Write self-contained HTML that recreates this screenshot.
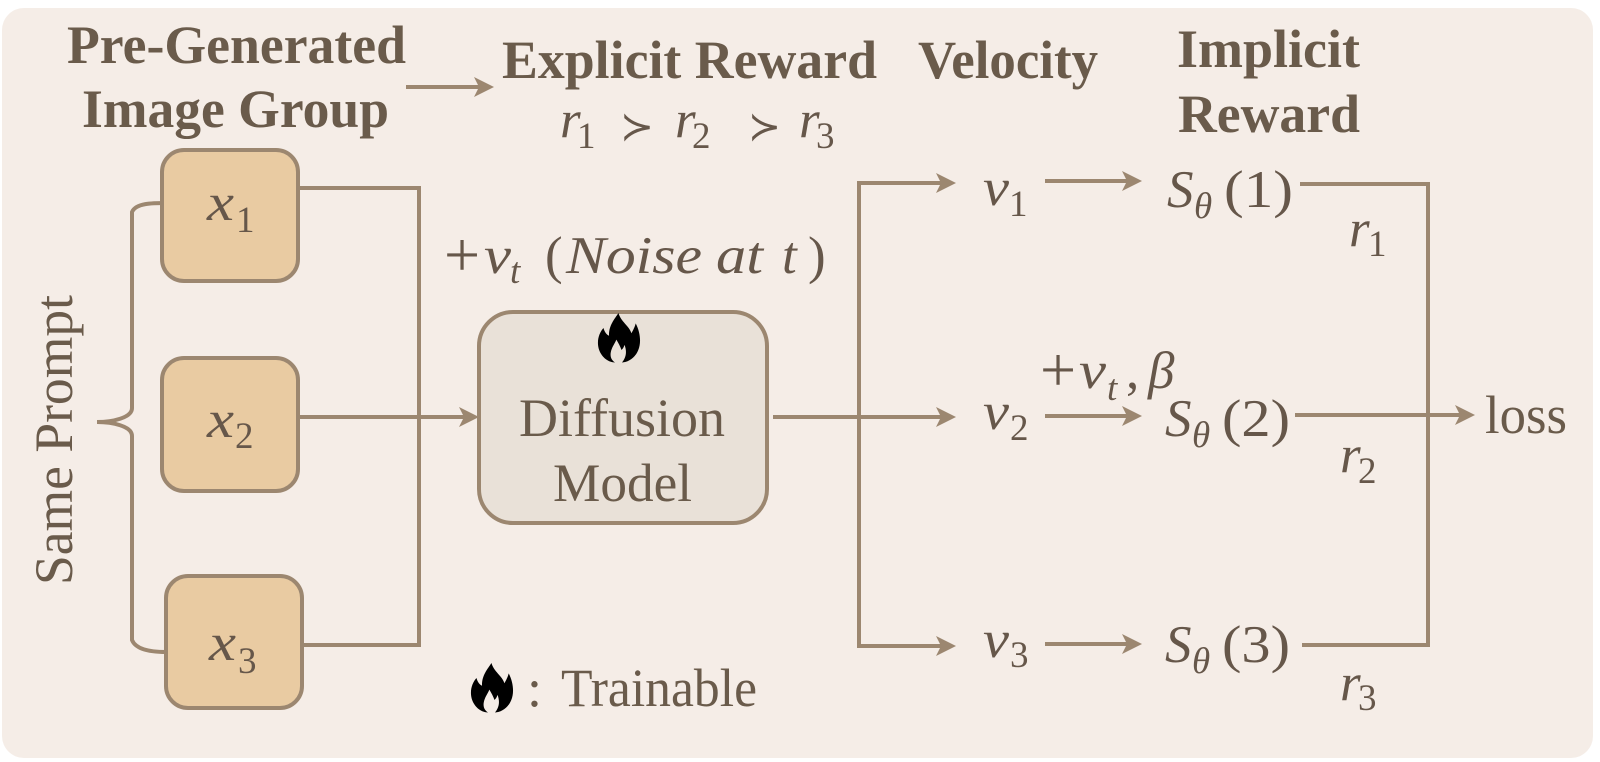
<!DOCTYPE html>
<html>
<head>
<meta charset="utf-8">
<style>
  html,body{margin:0;padding:0;background:#ffffff;}
  svg{display:block;}
  .hb{font-family:"Liberation Serif","DejaVu Serif",serif;font-weight:bold;font-size:54px;fill:#6a5b4b;}
  .rg{font-family:"Liberation Serif","DejaVu Serif",serif;font-size:54px;fill:#6a5b4b;}
  .mi{font-family:"Liberation Serif","DejaVu Serif",serif;font-style:italic;font-size:53px;fill:#66574a;}
  .mu{font-family:"Liberation Serif","DejaVu Serif",serif;font-size:53px;fill:#66574a;}
  .pl{font-family:"Liberation Serif","DejaVu Serif",serif;font-size:64px;fill:#66574a;}
  .sb{font-family:"Liberation Serif","DejaVu Serif",serif;font-size:37px;fill:#66574a;}
  .si{font-family:"Liberation Serif","DejaVu Serif",serif;font-style:italic;font-size:37px;fill:#66574a;}
  .op{font-family:"DejaVu Sans","DejaVu Serif",sans-serif;font-size:40px;fill:#66574a;}
  .ln{fill:none;stroke:#9c8770;stroke-width:4;}
  .ah{fill:#9c8770;}
</style>
</head>
<body>
<svg width="1600" height="762" viewBox="0 0 1600 762" xmlns="http://www.w3.org/2000/svg">
  <defs>
    <path id="flame" d="M50,0 C55,20 75,30 80,47 C85,38 88,32 90,24 C101,45 103,70 96,86 C89,104 72,115 58,115 C66,106 71,92 64,74 C62,80 60,83 57,86 C54,78 50,70 45,62 C41,72 34,80 32,92 C30,103 35,111 42,115 C28,115 12,105 5,86 C-2,66 5,46 15,35 C18,45 22,50 28,53 C27,30 40,15 50,0 Z"/>
  </defs>

  <!-- background panel -->
  <rect x="0" y="0" width="1600" height="762" fill="#ffffff"/>
  <rect x="2" y="8" width="1591" height="750" rx="22" ry="22" fill="#f5ede7"/>

  <!-- headers -->
  <text class="hb" x="67" y="63" textLength="339" lengthAdjust="spacingAndGlyphs">Pre-Generated</text>
  <text class="hb" x="82" y="127" textLength="307" lengthAdjust="spacingAndGlyphs">Image Group</text>
  <text class="hb" x="502" y="78" textLength="375" lengthAdjust="spacingAndGlyphs">Explicit Reward</text>
  <text class="hb" x="918" y="78" textLength="180" lengthAdjust="spacingAndGlyphs">Velocity</text>
  <text class="hb" x="1177" y="67" textLength="183" lengthAdjust="spacingAndGlyphs">Implicit</text>
  <text class="hb" x="1178" y="132" textLength="182" lengthAdjust="spacingAndGlyphs">Reward</text>

  <!-- header arrow -->
  <line class="ln" x1="406" y1="87" x2="480" y2="87"/>
  <path class="ah" d="M494,87 L474,77 L479,87 L474,97 Z"/>

  <!-- r1 > r2 > r3 -->
  <text class="mi" x="560" y="137">r</text>
  <text class="sb" x="577" y="148">1</text>
  <text class="op" x="620" y="140" textLength="34" lengthAdjust="spacingAndGlyphs">≻</text>
  <text class="mi" x="675" y="137">r</text>
  <text class="sb" x="692" y="148">2</text>
  <text class="op" x="748" y="140" textLength="33" lengthAdjust="spacingAndGlyphs">≻</text>
  <text class="mi" x="799" y="137">r</text>
  <text class="sb" x="816" y="148">3</text>

  <!-- Same Prompt -->
  <text class="rg" transform="translate(72,440) rotate(-90)" text-anchor="middle" textLength="290" lengthAdjust="spacingAndGlyphs">Same Prompt</text>

  <!-- bracket -->
  <path class="ln" d="M167,203 C152,203 136,203 132,212 L132,408 C132,418 112,422 97,422 C112,422 132,426 132,436 L132,640 C136,650 152,652 166,652"/>

  <!-- x boxes -->
  <rect x="162" y="150" width="136" height="131" rx="22" fill="#e9cba2" stroke="#9c8770" stroke-width="4"/>
  <rect x="162" y="358" width="136" height="133" rx="22" fill="#e9cba2" stroke="#9c8770" stroke-width="4"/>
  <rect x="166" y="576" width="136" height="132" rx="22" fill="#e9cba2" stroke="#9c8770" stroke-width="4"/>
  <text class="mi" x="207" y="220" textLength="27" lengthAdjust="spacingAndGlyphs">x</text><text class="sb" x="236" y="232">1</text>
  <text class="mi" x="207" y="437" textLength="27" lengthAdjust="spacingAndGlyphs">x</text><text class="sb" x="235" y="448">2</text>
  <text class="mi" x="209" y="660" textLength="27" lengthAdjust="spacingAndGlyphs">x</text><text class="sb" x="238" y="673">3</text>

  <!-- left connectors -->
  <path class="ln" d="M298,188 H419 V645 H302"/>
  <line class="ln" x1="298" y1="417" x2="465" y2="417"/>
  <path class="ah" d="M479,417 L459,407 L464,417 L459,427 Z"/>

  <!-- noise label -->
  <text class="pl" x="444" y="276">+</text>
  <text class="mi" x="484" y="273" textLength="27" lengthAdjust="spacingAndGlyphs">v</text>
  <text class="si" x="510" y="283">t</text>
  <text class="mu" x="545" y="273">(</text>
  <text class="mi" x="566" y="273" textLength="136" lengthAdjust="spacingAndGlyphs">Noise</text>
  <text class="mi" x="716" y="273" textLength="47" lengthAdjust="spacingAndGlyphs">at</text>
  <text class="mi" x="782" y="273">t</text>
  <text class="mu" x="808" y="273">)</text>

  <!-- diffusion model -->
  <rect x="479" y="312" width="288" height="211" rx="34" fill="#e9e1d8" stroke="#9c8770" stroke-width="4"/>
  <use href="#flame" transform="translate(597,313) scale(0.43)" fill="#000"/>
  <text class="rg" x="519" y="436" textLength="206" lengthAdjust="spacingAndGlyphs">Diffusion</text>
  <text class="rg" x="553" y="501" textLength="139" lengthAdjust="spacingAndGlyphs">Model</text>

  <!-- trainable legend -->
  <use href="#flame" transform="translate(470,663) scale(0.43)" fill="#000"/>
  <text class="rg" x="527" y="706">:</text>
  <text class="rg" x="561" y="706" textLength="196" lengthAdjust="spacingAndGlyphs">Trainable</text>

  <!-- fan-out to velocities -->
  <line class="ln" x1="773" y1="417" x2="942" y2="417"/>
  <path class="ln" d="M942,183 H859 V646 H942"/>
  <path class="ah" d="M956,183 L936,173 L941,183 L936,193 Z"/>
  <path class="ah" d="M956,417 L936,407 L941,417 L936,427 Z"/>
  <path class="ah" d="M956,646 L936,636 L941,646 L936,656 Z"/>

  <!-- velocities -->
  <text class="mi" x="983" y="205" textLength="26" lengthAdjust="spacingAndGlyphs">v</text><text class="sb" x="1009" y="216">1</text>
  <text class="mi" x="983" y="429" textLength="26" lengthAdjust="spacingAndGlyphs">v</text><text class="sb" x="1010" y="440">2</text>
  <text class="mi" x="983" y="657" textLength="26" lengthAdjust="spacingAndGlyphs">v</text><text class="sb" x="1010" y="667">3</text>

  <!-- v -> S arrows -->
  <line class="ln" x1="1045" y1="181" x2="1128" y2="181"/>
  <path class="ah" d="M1142,181 L1122,171 L1127,181 L1122,191 Z"/>
  <line class="ln" x1="1045" y1="416" x2="1128" y2="416"/>
  <path class="ah" d="M1142,416 L1122,406 L1127,416 L1122,426 Z"/>
  <line class="ln" x1="1045" y1="644" x2="1128" y2="644"/>
  <path class="ah" d="M1142,644 L1122,634 L1127,644 L1122,654 Z"/>

  <!-- +v_t, beta -->
  <text class="pl" x="1040" y="391">+</text>
  <text class="mi" x="1079" y="388" textLength="27" lengthAdjust="spacingAndGlyphs">v</text>
  <text class="si" x="1107" y="400">t</text>
  <text class="mu" x="1126" y="388">,</text>
  <text class="mi" x="1148" y="388">β</text>

  <!-- S theta -->
  <text class="mi" x="1167" y="207">S</text><text class="si" x="1194" y="218">θ</text>
  <text class="mu" x="1224" y="207" textLength="69" lengthAdjust="spacingAndGlyphs">(1)</text>
  <text class="mi" x="1165" y="436">S</text><text class="si" x="1192" y="447">θ</text>
  <text class="mu" x="1222" y="436" textLength="68" lengthAdjust="spacingAndGlyphs">(2)</text>
  <text class="mi" x="1165" y="662">S</text><text class="si" x="1192" y="673">θ</text>
  <text class="mu" x="1222" y="662" textLength="68" lengthAdjust="spacingAndGlyphs">(3)</text>

  <!-- to loss -->
  <path class="ln" d="M1300,184 H1428 V645 H1302"/>
  <line class="ln" x1="1295" y1="415" x2="1461" y2="415"/>
  <path class="ah" d="M1475,415 L1455,405 L1460,415 L1455,425 Z"/>
  <text class="rg" x="1485" y="433" textLength="82" lengthAdjust="spacingAndGlyphs">loss</text>

  <!-- r labels -->
  <text class="mi" x="1349" y="246">r</text><text class="sb" x="1368" y="256">1</text>
  <text class="mi" x="1340" y="472">r</text><text class="sb" x="1358" y="483">2</text>
  <text class="mi" x="1340" y="700">r</text><text class="sb" x="1358" y="710">3</text>
</svg>
</body>
</html>
